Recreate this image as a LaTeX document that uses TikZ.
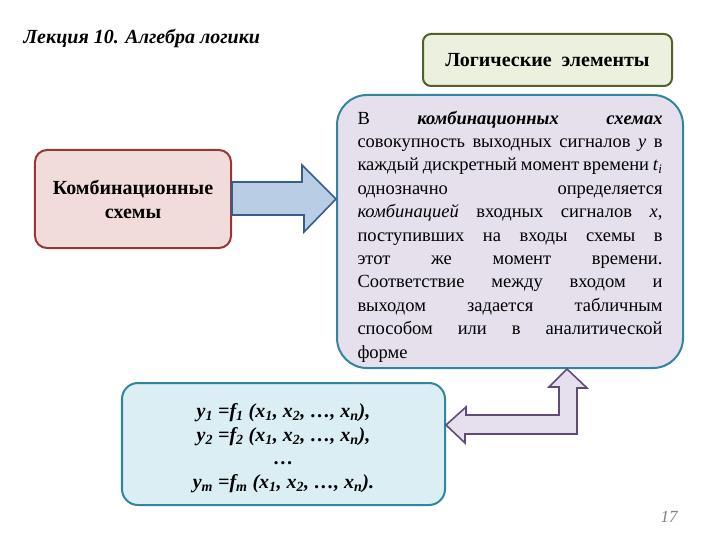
\documentclass[tikz,border=0pt]{standalone}
\usepackage{fontspec}
\setmainfont{Liberation Serif}
\usetikzlibrary{positioning,calc}
\definecolor{olivedark}{HTML}{4F6228}
\definecolor{olivelight}{HTML}{EBF1DE}
\definecolor{reddark}{HTML}{953735}
\definecolor{redlight}{HTML}{F2DCDB}
\definecolor{bluedark}{HTML}{385D8A}
\definecolor{bluelight}{HTML}{B9CDE5}
\definecolor{tealdark}{HTML}{31859C}
\definecolor{lavender}{HTML}{E5E0EC}
\definecolor{aqualight}{HTML}{DBEEF4}
\definecolor{purpledark}{HTML}{604A7B}
\tikzset{
    box/.style={draw, line width=2bp, rounded corners=12bp, align=center,
        font=\fontsize{20bp}{24bp}\selectfont\bfseries},
    blockarrow/.style={line width=1.6bp, line join=miter},
}

\begin{document}
\begin{tikzpicture}[x=1bp, y=-1bp]
    \useasboundingbox (0,0) rectangle (720,540);
    \node[anchor=base west, font=\fontsize{20bp}{24bp}\selectfont\bfseries\itshape] (title) at (20,44) {Лекция 10. Алгебра логики};
    \node[box, draw=olivedark, fill=olivelight, minimum width=249bp, minimum height=52bp, rounded corners=8bp] (logic) at (547.5,60) {Логические\ \ элементы};
    \node[box, draw=reddark, fill=redlight, minimum width=196bp, minimum height=98bp] (comb) at (133,199) {Комбинационные\\схемы};
    \node[box, draw=tealdark, fill=lavender, minimum width=346bp, minimum height=273bp, rounded corners=30bp] (desc) at (510,231.5) {};
    \node[text width=305bp, align=justify, font=\fontsize{18.5bp}{23.4bp}\selectfont] (desctext) at ([yshift=-5bp]desc.center) {%
        В \textbf{\textit{комбинационных схемах}}\linebreak
        совокупность выходных сигналов \textit{y} в\linebreak
        каждый дискретный момент времени \textit{t}\textsubscript{\textit{i}}\linebreak
        однозначно определяется\linebreak
        \textit{комбинацией} входных сигналов \textit{x},\linebreak
        поступивших на входы схемы в\linebreak
        этот же момент времени.\linebreak
        Соответствие между входом и\linebreak
        выходом задается табличным\linebreak
        способом или в аналитической\linebreak
        форме};
    \node[box, draw=tealdark, fill=aqualight, minimum width=323bp, minimum height=122bp, rounded corners=16bp] (eqs) at (283.5,444) {};
    \node[align=center, font=\fontsize{20bp}{23.7bp}\selectfont\bfseries\itshape] (eqtext) at ([yshift=-4bp]eqs.center) {%
        y\textsubscript{1} =f\textsubscript{1} (x\textsubscript{1}, x\textsubscript{2}, …, x\textsubscript{n}),\\
        y\textsubscript{2} =f\textsubscript{2} (x\textsubscript{1}, x\textsubscript{2}, …, x\textsubscript{n}),\\
        …\\
        y\textsubscript{m} =f\textsubscript{m} (x\textsubscript{1}, x\textsubscript{2}, …, x\textsubscript{n}).};
    \node[font=\fontsize{17bp}{19bp}\selectfont\itshape, text=gray] (page) at (669,517) {17};
    \draw[blockarrow, draw=bluedark, fill=bluelight] (comb.east -| desc.west) -- ++(-34,-34) -- ++(0,17)
        -- ([yshift=17bp]comb.east) -- ([yshift=-16bp]comb.east) -- ++(72,0) -- ++(0,17) -- cycle;
    \coordinate (lt) at ([yshift=19bp]eqs.east);
    \coordinate (ut) at ([xshift=57bp]desc.south);
    \draw[blockarrow, draw=purpledark, fill=lavender] (lt) -- ++(20,-18) -- ++(0,8) -- ++(93,0) -- ++(0,-28)
        -- ++(-10,0) -- (ut) -- ++(20,19) -- ++(-10,0) -- ++(0,46) -- ++(-112,0) -- ++(0,9) -- cycle;
\end{tikzpicture}
\end{document}
